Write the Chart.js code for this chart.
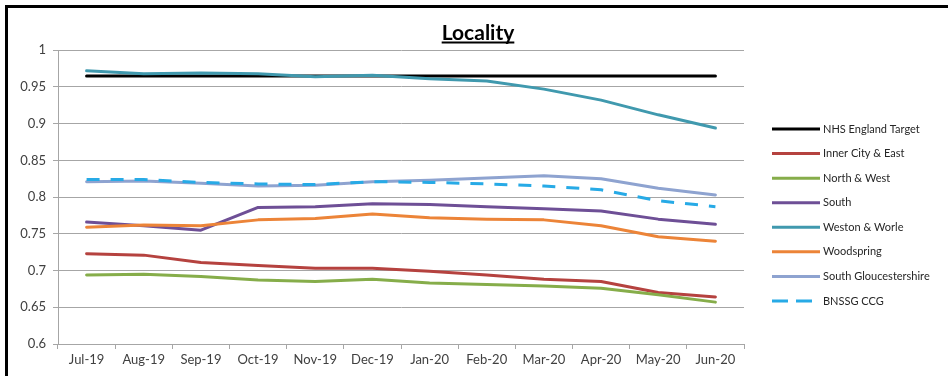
<!DOCTYPE html>
<html>
<head>
<meta charset="utf-8">
<script src="https://cdn.jsdelivr.net/npm/chart.js@4.4.1/dist/chart.umd.min.js"></script>
<style>
  html, body { margin: 0; padding: 0; background: #fff; width: 948px; height: 376px; overflow: hidden; }
  #frame { position: absolute; left: 5px; top: 5px; width: 940px; height: 368px;
           border-left: 3px solid #000; border-top: 3px solid #000; }
  #wrap { position: absolute; left: 0; top: 0; width: 940px; height: 368px; }
</style>
</head>
<body>
<div id="frame"><div id="wrap"><canvas id="c" width="940" height="368"></canvas></div></div>
<script>
const titleText = 'Locality';
const categories = ['Jul-19','Aug-19','Sep-19','Oct-19','Nov-19','Dec-19','Jan-20','Feb-20','Mar-20','Apr-20','May-20','Jun-20'];
const yTicks = [0.6, 0.65, 0.7, 0.75, 0.8, 0.85, 0.9, 0.95, 1];
const seriesNames = ['NHS England Target','Inner City & East','North & West','South','Weston & Worle','Woodspring','South Gloucestershire','BNSSG CCG'];
const nhsEnglandTarget   = [0.965,0.965,0.965,0.965,0.965,0.965,0.965,0.965,0.965,0.965,0.965,0.965];
const innerCityEast      = [0.723,0.721,0.711,0.707,0.703,0.703,0.699,0.694,0.688,0.685,0.670,0.664];
const northWest          = [0.694,0.695,0.692,0.687,0.685,0.688,0.683,0.681,0.679,0.676,0.667,0.657];
const south              = [0.766,0.761,0.755,0.786,0.787,0.791,0.790,0.787,0.784,0.781,0.770,0.763];
const westonWorle        = [0.972,0.968,0.969,0.968,0.964,0.966,0.961,0.958,0.947,0.932,0.912,0.894];
const woodspring         = [0.759,0.762,0.761,0.769,0.771,0.777,0.772,0.770,0.769,0.761,0.746,0.740];
const southGloucestershire = [0.821,0.822,0.819,0.815,0.816,0.821,0.823,0.826,0.829,0.825,0.812,0.803];
const bnssgCCG           = [0.824,0.824,0.820,0.818,0.817,0.821,0.820,0.818,0.815,0.810,0.795,0.787];

const seriesValues = [nhsEnglandTarget, innerCityEast, northWest, south, westonWorle, woodspring, southGloucestershire, bnssgCCG];
const seriesColors = ['#000000','#b5423f','#86ad4a','#6e4f96','#4099ae','#ec8438','#8ea3d0','#27aae6'];
const seriesDash = [[],[],[],[],[],[],[],[13,11]];

const FONT = 'Lato, "Open Sans", "Liberation Sans", sans-serif';

const datasets = seriesValues.map((vals, i) => ({
  label: seriesNames[i],
  data: vals,
  borderColor: seriesColors[i],
  backgroundColor: seriesColors[i],
  borderWidth: 3,
  borderDash: seriesDash[i],
  borderCapStyle: seriesDash[i].length ? 'butt' : 'round',
  borderJoinStyle: 'round',
  pointRadius: 0,
  pointHoverRadius: 0,
  tension: 0,
  fill: false,
  order: seriesValues.length - i
}));

const legendAndTitlePlugin = {
  id: 'customLegend',
  afterDraw(chart) {
    const ctx = chart.ctx;
    // underline title
    const tb = chart.titleBlock;
    if (tb) {
      ctx.save();
      ctx.font = 'bold 21px ' + FONT;
      const w = ctx.measureText(titleText).width;
      const cx = (tb.left + tb.right) / 2;
      const y = tb.top + tb.options.padding.top + 21 * 1.2 / 2 + 9;
      ctx.strokeStyle = '#000';
      ctx.lineWidth = 2;
      ctx.beginPath();
      ctx.moveTo(cx - w / 2, y);
      ctx.lineTo(cx + w / 2, y);
      ctx.stroke();
      ctx.restore();
    }
    // legend
    const x0 = 764, y0 = 121, step = 24.57, len = 48;
    ctx.save();
    chart.data.datasets.forEach((ds, i) => {
      const y = y0 + i * step;
      ctx.strokeStyle = ds.borderColor;
      ctx.lineWidth = 3;
      ctx.setLineDash(ds.borderDash && ds.borderDash.length ? [16, 8] : []);
      ctx.lineCap = 'butt';
      ctx.beginPath();
      ctx.moveTo(x0, y);
      ctx.lineTo(x0 + len, y);
      ctx.stroke();
      ctx.setLineDash([]);
      ctx.fillStyle = '#262626';
      ctx.font = '11px ' + FONT;
      ctx.textBaseline = 'middle';
      ctx.textAlign = 'left';
      ctx.fillText(ds.label, x0 + len + 3, y);
    });
    ctx.restore();
  }
};

new Chart(document.getElementById('c'), {
  type: 'line',
  data: { labels: categories, datasets },
  options: {
    responsive: false,
    animation: false,
    events: [],
    layout: { padding: 0 },
    plugins: {
      legend: { display: false },
      tooltip: { enabled: false },
      title: {
        display: true,
        text: titleText,
        color: '#000',
        font: { family: FONT, size: 21, weight: 'bold' },
        padding: { top: 13, bottom: 4 }
      }
    },
    scales: {
      x: {
        offset: true,
        grid: { offset: true, drawOnChartArea: false, drawTicks: true, tickLength: 5, color: '#a6a6a6' },
        border: { color: '#a6a6a6' },
        ticks: { color: '#404040', font: { family: FONT, size: 13 }, padding: 3, maxRotation: 0, autoSkip: false },
        afterFit(s) { s.height = 32; }
      },
      y: {
        min: 0.6, max: 1,
        afterBuildTicks(s) { s.ticks = yTicks.map(v => ({ value: v })); },
        grid: { color: '#a6a6a6', tickLength: 5, drawTicks: true },
        border: { color: '#a6a6a6' },
        ticks: { color: '#404040', font: { family: FONT, size: 13 }, padding: 7,
                 callback: v => String(v) },
        afterFit(s) { s.width = 50; }
      },
      legendSpace: {
        type: 'linear',
        position: 'right',
        min: 0, max: 1,
        display: true,
        grid: { display: false, drawTicks: false },
        border: { display: false },
        ticks: { display: false },
        afterFit(s) { s.width = 204; }
      }
    }
  },
  plugins: [legendAndTitlePlugin]
});
</script>
</body>
</html>
